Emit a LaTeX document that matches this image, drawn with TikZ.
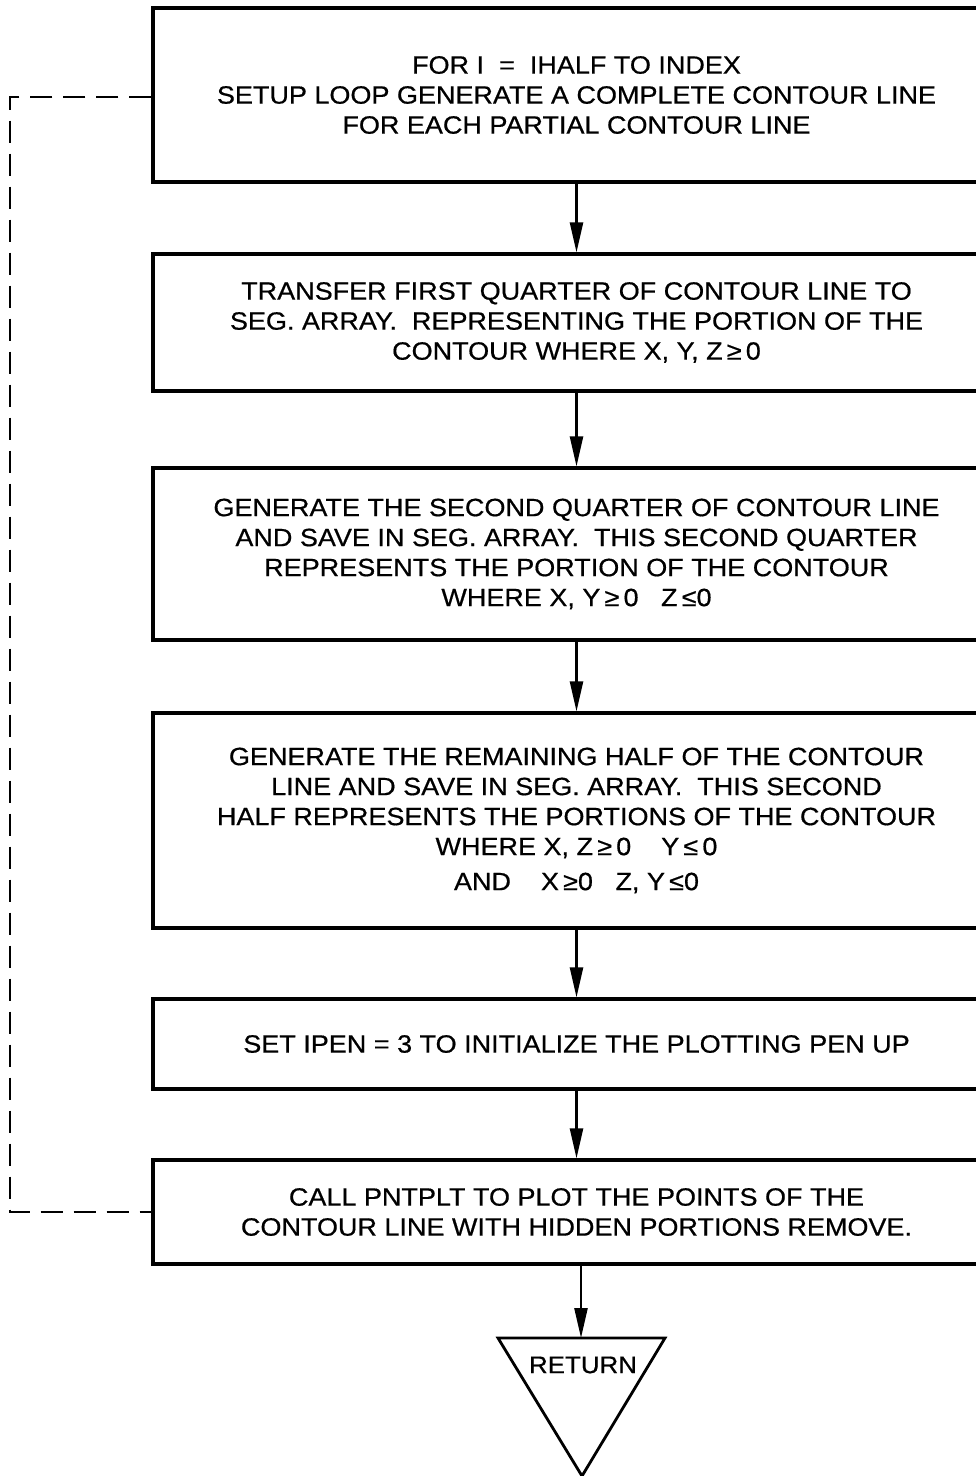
\documentclass[tikz,border=0pt]{standalone}
\usepackage{fontspec}
\setmainfont{Liberation Sans}[FakeStretch=1.08,FakeBold=0.6]
\usetikzlibrary{arrows.meta}
\begin{document}
\begin{tikzpicture}[x=1pt,y=-1pt,
  stepbox/.style={draw,line width=3.2pt,minimum width=847pt,inner sep=0pt,
    align=center,font=\fontsize{25}{30}\selectfont},
  flow/.style={line width=2.4pt,-{Triangle[length=30pt,width=13pt]}},
  loopline/.style={line width=2.4pt,dash pattern=on 22pt off 11pt}]
\useasboundingbox (0,0) rectangle (976,1476);
\node[stepbox,minimum height=174pt] (b1) at (576.5,95)
  {FOR I\ \ =\ \ IHALF TO INDEX\\SETUP LOOP GENERATE A COMPLETE CONTOUR LINE\\FOR EACH PARTIAL CONTOUR LINE};
\node[stepbox,minimum height=137pt] (b2) at (576.5,322.5)
  {TRANSFER FIRST QUARTER OF CONTOUR LINE TO\\SEG. ARRAY.\ \ REPRESENTING THE PORTION OF THE\\CONTOUR WHERE X, Y, Z\,≥\,0};
\node[stepbox,minimum height=172pt] (b3) at (576.5,554)
  {GENERATE THE SECOND QUARTER OF CONTOUR LINE\\AND SAVE IN SEG. ARRAY.\ \ THIS SECOND QUARTER\\REPRESENTS THE PORTION OF THE CONTOUR\\WHERE X, Y\,≥\,0\ \ \ Z\,≤0};
\node[stepbox,minimum height=215pt] (b4) at (576.5,820.5)
  {GENERATE THE REMAINING HALF OF THE CONTOUR\\LINE AND SAVE IN SEG. ARRAY.\ \ THIS SECOND\\HALF REPRESENTS THE PORTIONS OF THE CONTOUR\\WHERE X, Z\,≥\,0\ \ \ \ Y\,≤\,0\\[5pt]AND\ \ \ \ X\,≥0\ \ \ Z, Y\,≤0};
\node[stepbox,minimum height=90pt] (b5) at (576.5,1044)
  {SET IPEN\ =\ 3 TO INITIALIZE THE PLOTTING PEN UP};
\node[stepbox,minimum height=104pt] (b6) at (576.5,1212)
  {CALL PNTPLT TO PLOT THE POINTS OF THE\\CONTOUR LINE WITH HIDDEN PORTIONS REMOVE.};
\coordinate (tl) at (498,1338);
\coordinate (tr) at (665,1338);
\coordinate (tb) at (582,1476);
\coordinate (tt) at (581,1338);
\draw[line width=2.8pt,line join=miter] (tl) -- (tr) -- (tb) -- cycle;
\node[font=\fontsize{24}{28}\selectfont,inner sep=0pt] (ret) at (583,1365) {RETURN};
\draw[flow] (b1.south) -- (b2.north);
\draw[flow] (b2.south) -- (b3.north);
\draw[flow] (b3.south) -- (b4.north);
\draw[flow] (b4.south) -- (b5.north);
\draw[flow] (b5.south) -- (b6.north);
\draw[flow] (b6.south -| tt) -- (tt);
\coordinate (dtop) at (10,97);
\draw[loopline] (b1.west |- dtop) -- (dtop) |- (b6.west);
\end{tikzpicture}
\end{document}
